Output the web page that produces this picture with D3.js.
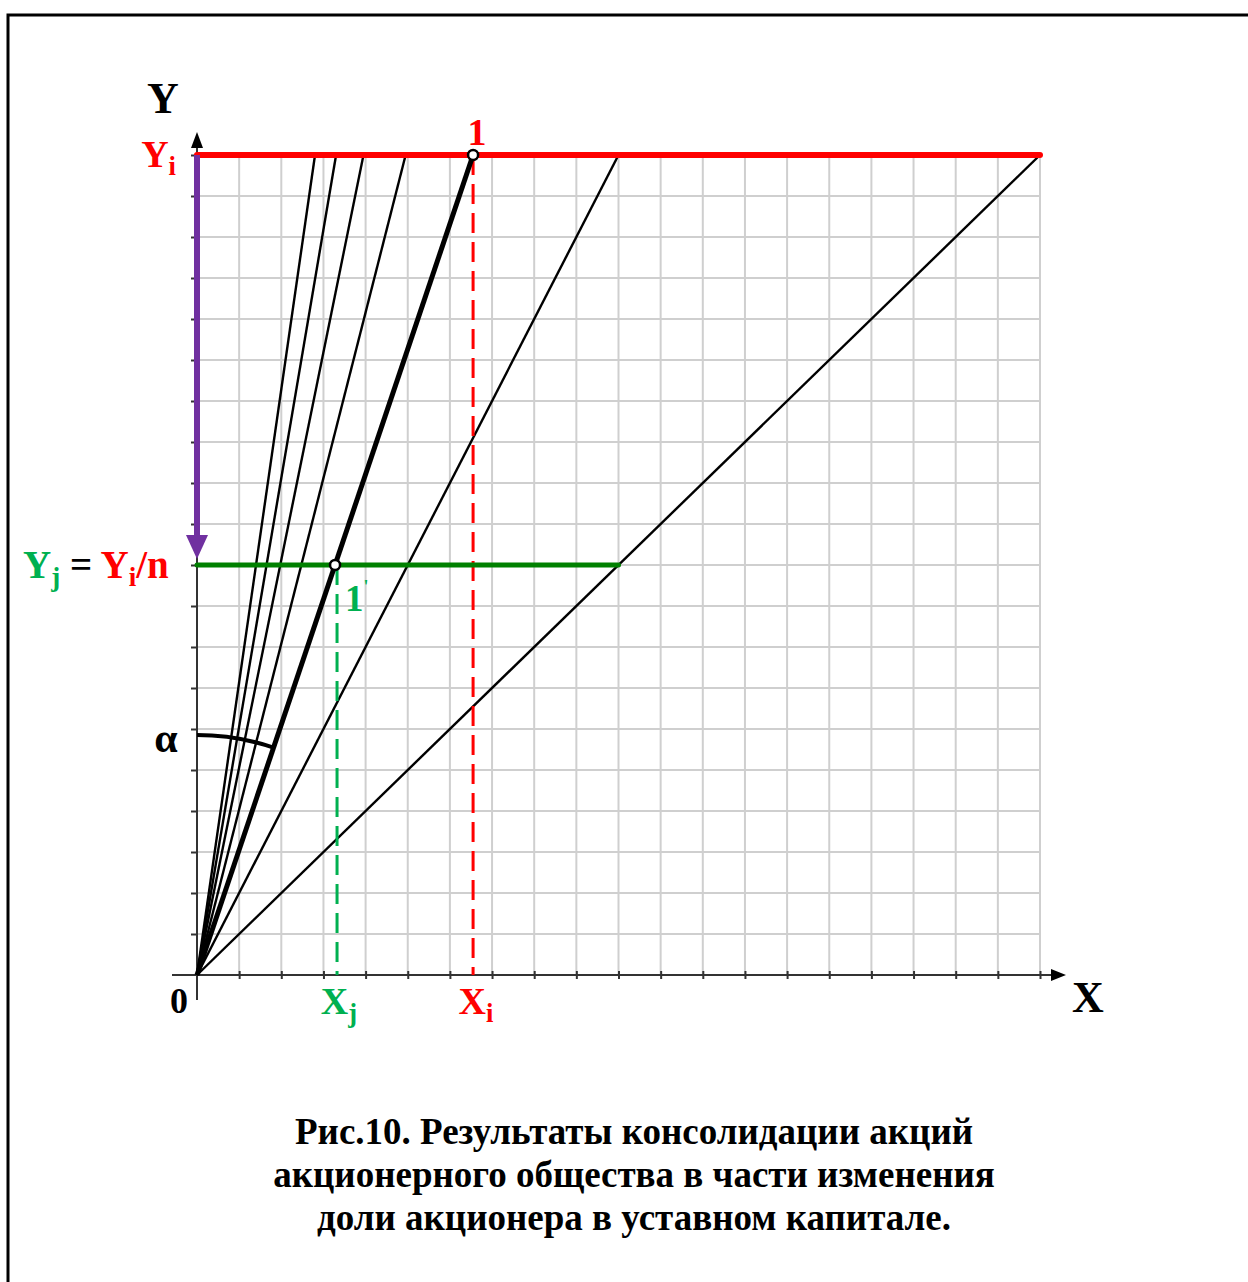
<!DOCTYPE html>
<html>
<head>
<meta charset="utf-8">
<script src="https://cdn.jsdelivr.net/npm/d3@7"></script>
<style>
  body { margin: 0; background: #fff; }
  svg { display: block; }
  text { font-family: "Liberation Serif", "Times New Roman", serif; font-weight: bold; }
</style>
</head>
<body>
<div id="chart"></div>
<script>
// grid units along each axis
const gridTicks = d3.range(0, 21);
// x-value where each ray from origin hits the top line (y = 20)
const rayTops = [2.8, 3.3, 3.95, 4.95, 10, 20];
const mainRayTop = 6.55;     // thick ray through point 1
const yTop = 20;             // Yi
const yHalf = 10;            // Yj = Yi / n
const captionLines = [
    "Рис.10. Результаты консолидации акций",
    "акционерного общества в части изменения",
    "доли акционера в уставном капитале."
];

const W = 1248, H = 1282;
const svg = d3.select("#chart").append("svg").attr("width", W).attr("height", H);

// frame (left and top only)
svg.append("path")
    .attr("d", `M8,${H} L8,15 L${W},15`)
    .attr("fill", "none").attr("stroke", "#000").attr("stroke-width", 3);

const x = d3.scaleLinear().domain([0, 20]).range([197, 1040]);
const y = d3.scaleLinear().domain([0, 20]).range([975, 155]);

// grid
const grid = svg.append("g").attr("stroke", "#cfcfcf").attr("stroke-width", 2);
grid.selectAll(".vx").data(gridTicks.slice(1)).join("line")
    .attr("x1", d => x(d)).attr("x2", d => x(d))
    .attr("y1", y(0)).attr("y2", y(20));
grid.selectAll(".hy").data(gridTicks.slice(1)).join("line")
    .attr("x1", x(0)).attr("x2", x(20))
    .attr("y1", d => y(d)).attr("y2", d => y(d));

// axes
svg.append("g")
    .attr("transform", `translate(0,${y(0)})`)
    .call(d3.axisBottom(x).tickValues(gridTicks.slice(1)).tickSize(4).tickSizeOuter(0).tickFormat(""))
    .call(g => g.select(".domain").remove())
    .call(g => g.selectAll(".tick line").attr("y1", -4).attr("stroke", "#333").attr("stroke-width", 2));
svg.append("g")
    .attr("transform", `translate(${x(0)},0)`)
    .call(d3.axisLeft(y).tickValues(gridTicks.slice(1)).tickSize(6).tickSizeOuter(0).tickFormat(""))
    .call(g => g.select(".domain").remove())
    .call(g => g.selectAll(".tick line").attr("stroke", "#333").attr("stroke-width", 2));

svg.append("line").attr("x1", 172).attr("x2", 1052).attr("y1", y(0)).attr("y2", y(0))
    .attr("stroke", "#333").attr("stroke-width", 2);
svg.append("path").attr("d", `M1051,${y(0) - 6} L1066,${y(0)} L1051,${y(0) + 6} Z`).attr("fill", "#000");
svg.append("line").attr("x1", x(0)).attr("x2", x(0)).attr("y1", 1000).attr("y2", 146)
    .attr("stroke", "#333").attr("stroke-width", 2);
svg.append("path").attr("d", `M${x(0) - 6},148 L${x(0)},132 L${x(0) + 6},148 Z`).attr("fill", "#000");

// thin rays
svg.append("g").selectAll("line").data(rayTops).join("line")
    .attr("x1", x(0)).attr("y1", y(0))
    .attr("x2", d => x(d)).attr("y2", y(yTop))
    .attr("stroke", "#000").attr("stroke-width", 2.4);

// dashed verticals
const xj = mainRayTop * yHalf / yTop;
svg.append("line").attr("x1", x(mainRayTop)).attr("x2", x(mainRayTop))
    .attr("y1", y(yTop)).attr("y2", y(0))
    .attr("stroke", "#ff0000").attr("stroke-width", 3).attr("stroke-dasharray", "20,9");
svg.append("line").attr("x1", x(xj) + 2).attr("x2", x(xj) + 2)
    .attr("y1", y(yHalf)).attr("y2", y(0))
    .attr("stroke", "#00b050").attr("stroke-width", 3).attr("stroke-dasharray", "20,9");

// red line Yi and green line Yj
svg.append("line").attr("x1", x(0)).attr("x2", x(20)).attr("y1", y(yTop)).attr("y2", y(yTop))
    .attr("stroke", "#ff0000").attr("stroke-width", 6).attr("stroke-linecap", "round");
svg.append("line").attr("x1", x(0)).attr("x2", x(10)).attr("y1", y(yHalf)).attr("y2", y(yHalf))
    .attr("stroke", "#008000").attr("stroke-width", 5).attr("stroke-linecap", "round");

// thick main ray
svg.append("line").attr("x1", x(0)).attr("y1", y(0))
    .attr("x2", x(mainRayTop)).attr("y2", y(yTop))
    .attr("stroke", "#000").attr("stroke-width", 5);

// alpha arc
const ang = Math.atan2(x(mainRayTop) - x(0), y(0) - y(yTop));
svg.append("path")
    .attr("transform", `translate(${x(0)},${y(0)})`)
    .attr("d", d3.arc()({ innerRadius: 240, outerRadius: 240, startAngle: 0, endAngle: ang }))
    .attr("fill", "none").attr("stroke", "#000").attr("stroke-width", 4);

// purple arrow
svg.append("line").attr("x1", x(0)).attr("x2", x(0)).attr("y1", y(yTop)).attr("y2", y(yHalf) - 28)
    .attr("stroke", "#7030a0").attr("stroke-width", 6);
svg.append("path")
    .attr("d", `M${x(0) - 11},${y(yHalf) - 30} L${x(0) + 11},${y(yHalf) - 30} L${x(0)},${y(yHalf) - 6} Z`)
    .attr("fill", "#7030a0");

// points
svg.selectAll(".pt").data([[mainRayTop, yTop], [xj, yHalf]]).join("circle")
    .attr("cx", d => x(d[0])).attr("cy", d => y(d[1])).attr("r", 5)
    .attr("fill", "#fff").attr("stroke", "#000").attr("stroke-width", 2.5);

// labels
function label(txt, px, py, size, color, anchor) {
    return svg.append("text").attr("x", px).attr("y", py)
        .attr("font-size", size).attr("fill", color || "#000")
        .attr("text-anchor", anchor || "middle").text(txt);
}
function subLabel(main, sub, px, py, size, color, anchor) {
    const t = svg.append("text").attr("x", px).attr("y", py).attr("font-size", size)
        .attr("fill", color).attr("text-anchor", anchor || "middle");
    t.append("tspan").text(main);
    t.append("tspan").attr("font-size", size * 0.7).attr("dy", size * 0.22).text(sub);
    return t;
}

label("Y", 163, 113, 44);
subLabel("Y", "i", 176, 167, 38, "#ff0000", "end");
label("1", 477, 145, 38, "#ff0000");

const eq = svg.append("text").attr("x", 23).attr("y", 578).attr("font-size", 39);
eq.append("tspan").attr("fill", "#00b050").text("Y");
eq.append("tspan").attr("fill", "#00b050").attr("font-size", 27).attr("dy", 8).text("j");
eq.append("tspan").attr("fill", "#000").attr("dy", -8).text(" = ");
eq.append("tspan").attr("fill", "#ff0000").text("Y");
eq.append("tspan").attr("fill", "#ff0000").attr("font-size", 27).attr("dy", 8).text("i");
eq.append("tspan").attr("fill", "#ff0000").attr("dy", -8).text("/n");

const one = svg.append("text").attr("x", 345).attr("y", 611).attr("font-size", 37).attr("fill", "#00b050");
one.append("tspan").text("1");
one.append("tspan").attr("font-size", 18).attr("dy", -18).text("'");

label("α", 166, 752, 42);
label("0", 179, 1013, 36);
subLabel("X", "j", 339, 1014, 38, "#00b050");
subLabel("X", "i", 476, 1014, 38, "#ff0000");
label("X", 1088, 1012, 44);

// caption
svg.selectAll(".cap").data(captionLines).join("text")
    .attr("x", 634).attr("y", (d, i) => 1144 + i * 43)
    .attr("text-anchor", "middle").attr("font-size", 37).attr("fill", "#000")
    .text(d => d);
</script>
</body>
</html>
